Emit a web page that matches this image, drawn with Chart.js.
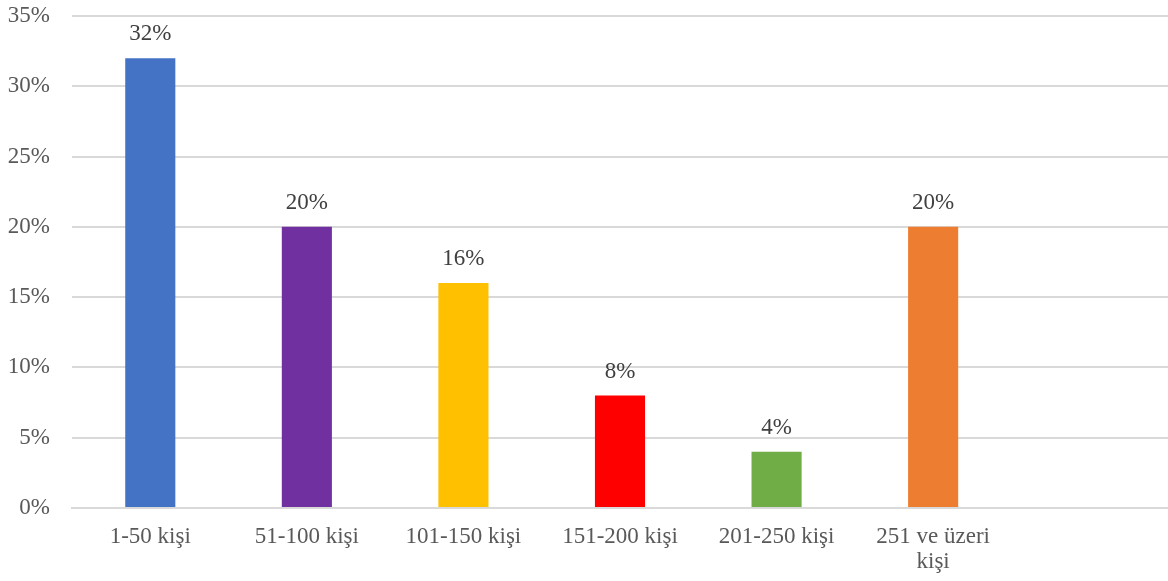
<!DOCTYPE html>
<html>
<head>
<meta charset="utf-8">
<script src="https://cdn.jsdelivr.net/npm/chart.js@4.4.1/dist/chart.umd.min.js"></script>
<style>
html,body{margin:0;padding:0;background:#fff;}
#wrap{width:1168px;height:581px;position:relative;}
</style>
</head>
<body>
<div id="wrap"><canvas id="c" width="1168" height="581"></canvas></div>
<script>
const categories = ["1-50 kişi", "51-100 kişi", "101-150 kişi", "151-200 kişi", "201-250 kişi", ["251 ve üzeri", "kişi"], ""];
const values = [32, 20, 16, 8, 4, 20, null];
const barColors = ["#4472C4", "#7030A0", "#FFC000", "#FF0000", "#70AD47", "#ED7D31", "#FFFFFF"];
const yTicks = [0, 5, 10, 15, 20, 25, 30, 35];

const FONT = "'Liberation Serif', 'Times New Roman', serif";
const TEXT = "#595959";

const labelPlugin = {
  id: 'valueLabels',
  afterDatasetsDraw(chart) {
    const ctx = chart.ctx;
    const meta = chart.getDatasetMeta(0);
    ctx.save();
    ctx.font = "23px " + FONT;
    ctx.fillStyle = "#404040";
    ctx.textAlign = "center";
    ctx.textBaseline = "middle";
    meta.data.forEach((bar, i) => {
      const v = values[i];
      if (v === null || v === undefined) return;
      ctx.fillText(v + "%", bar.x, bar.y - 24);
    });
    ctx.restore();
  }
};

new Chart(document.getElementById('c'), {
  type: 'bar',
  data: {
    labels: categories,
    datasets: [{
      data: values,
      backgroundColor: barColors,
      borderWidth: 0,
      barPercentage: 0.32,
      categoryPercentage: 1.0
    }]
  },
  options: {
    responsive: false,
    animation: false,
    devicePixelRatio: 1,
    layout: { padding: { top: 16, right: 0, left: 0, bottom: 0 } },
    plugins: { legend: { display: false }, tooltip: { enabled: false } },
    scales: {
      x: {
        grid: { display: false, drawTicks: false },
        border: { display: true, color: "#d9d9d9", width: 2 },
        ticks: { color: TEXT, font: { family: FONT, size: 23, lineHeight: 1.1 }, padding: 16, maxRotation: 0, autoSkip: false },
        afterFit(scale) { scale.height = 73; scale.paddingLeft = 0; scale.paddingRight = 0; }
      },
      y: {
        min: 0, max: 35,
        afterBuildTicks(scale) { scale.ticks = yTicks.map(v => ({ value: v })); },
        grid: { color: "#d9d9d9", lineWidth: 2, drawTicks: false },
        border: { display: false },
        ticks: { color: TEXT, font: { family: FONT, size: 23 }, padding: 22, callback: v => v + "%" },
        afterFit(scale) { scale.width = 72; scale.paddingTop = 0; scale.paddingBottom = 0; }
      }
    }
  },
  plugins: [labelPlugin]
});
</script>
</body>
</html>
